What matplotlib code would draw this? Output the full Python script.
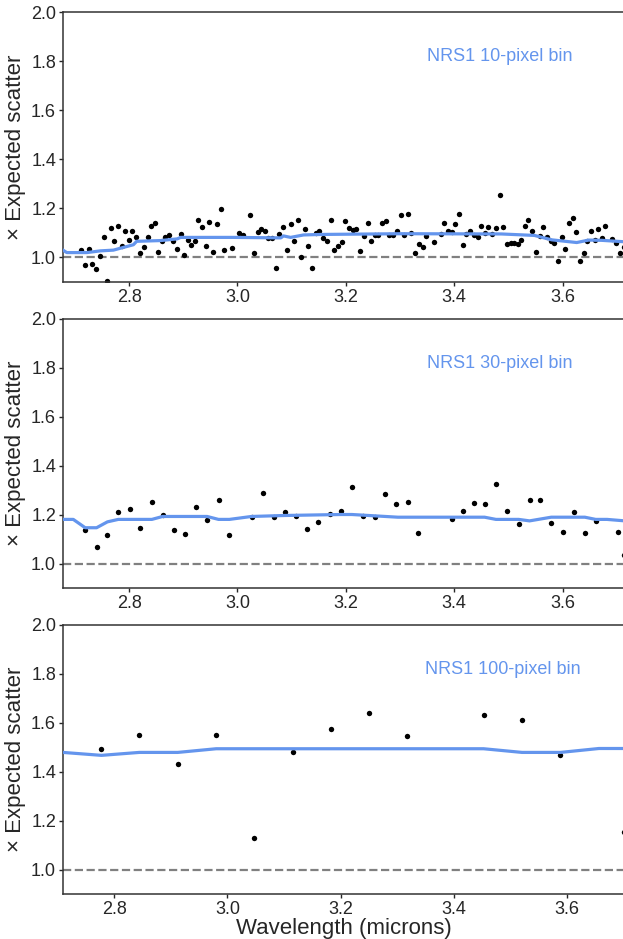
import matplotlib
matplotlib.use("Agg")
import matplotlib.pyplot as plt

plt.rcParams['font.family'] = ['Liberation Sans', 'DejaVu Sans']

# --- 10-pixel bins ---
wave_10 = [2.712, 2.719, 2.726, 2.732, 2.739, 2.746, 2.753, 2.759, 2.766, 2.772,
           2.779, 2.786, 2.793, 2.800, 2.806, 2.813, 2.820, 2.827, 2.834, 2.840,
           2.847, 2.854, 2.861, 2.867, 2.874, 2.881, 2.888, 2.895, 2.901, 2.908,
           2.914, 2.921, 2.928, 2.935, 2.942, 2.948, 2.955, 2.962, 2.969, 2.976,
           2.989, 3.002, 3.010, 3.023, 3.030, 3.037, 3.043, 3.050, 3.057, 3.064,
           3.071, 3.077, 3.084, 3.091, 3.098, 3.104, 3.111, 3.118, 3.124, 3.131,
           3.138, 3.145, 3.151, 3.158, 3.165, 3.172, 3.179, 3.185, 3.192, 3.199,
           3.206, 3.213, 3.219, 3.226, 3.233, 3.240, 3.247, 3.253, 3.260, 3.267,
           3.274, 3.280, 3.287, 3.294, 3.301, 3.308, 3.315, 3.321, 3.328, 3.335,
           3.342, 3.348, 3.362, 3.376, 3.382, 3.389, 3.396, 3.402, 3.409, 3.416,
           3.422, 3.429, 3.436, 3.443, 3.450, 3.456, 3.463, 3.470, 3.477, 3.484,
           3.490, 3.497, 3.504, 3.511, 3.517, 3.524, 3.530, 3.537, 3.544, 3.551,
           3.558, 3.564, 3.571, 3.578, 3.585, 3.591, 3.598, 3.605, 3.612, 3.619,
           3.625, 3.632, 3.639, 3.645, 3.652, 3.659, 3.666, 3.672, 3.679, 3.692,
           3.699, 3.706, 3.713]
ratio_10 = [1.031, 0.970, 1.036, 0.974, 0.955, 1.007, 1.083, 0.906, 1.121, 1.069,
            1.128, 1.048, 1.107, 1.073, 1.110, 1.083, 1.019, 1.042, 1.083, 1.129,
            1.140, 1.022, 1.069, 1.083, 1.093, 1.067, 1.034, 1.094, 1.012, 1.072,
            1.049, 1.068, 1.155, 1.125, 1.045, 1.144, 1.022, 1.137, 1.197, 1.031,
            1.038, 1.099, 1.093, 1.174, 1.020, 1.103, 1.117, 1.110, 1.080, 1.080,
            0.958, 1.097, 1.124, 1.029, 1.137, 1.067, 1.151, 1.000, 1.116, 1.046,
            0.958, 1.101, 1.110, 1.080, 1.067, 1.155, 1.029, 1.046, 1.065, 1.148,
            1.121, 1.113, 1.117, 1.026, 1.086, 1.139, 1.069, 1.090, 1.091, 1.140,
            1.147, 1.093, 1.093, 1.109, 1.174, 1.090, 1.177, 1.099, 1.018, 1.054,
            1.041, 1.087, 1.064, 1.097, 1.139, 1.107, 1.105, 1.135, 1.176, 1.052,
            1.094, 1.110, 1.091, 1.082, 1.129, 1.101, 1.124, 1.095, 1.120, 1.254,
            1.125, 1.056, 1.061, 1.061, 1.054, 1.072, 1.128, 1.151, 1.107, 1.024,
            1.088, 1.124, 1.083, 1.069, 1.058, 0.984, 1.082, 1.034, 1.142, 1.161,
            1.106, 0.985, 1.019, 1.067, 1.109, 1.072, 1.118, 1.080, 1.129, 1.075,
            1.060, 1.019, 1.042]
trend_x_10 = [2.678, 2.685, 2.722, 2.747, 2.771, 2.796, 2.808, 2.814, 2.858, 2.889,
              2.895, 2.932, 2.993, 3.080, 3.085, 3.098, 3.122, 3.154, 3.302, 3.487,
              3.548, 3.580, 3.626, 3.648, 3.672, 3.715]
trend_y_10 = [1.030, 1.020, 1.020, 1.027, 1.030, 1.045, 1.052, 1.066, 1.069, 1.076,
              1.082, 1.082, 1.082, 1.080, 1.088, 1.082, 1.092, 1.094, 1.097, 1.096,
              1.090, 1.072, 1.061, 1.071, 1.070, 1.064]

# --- 30-pixel bins ---
wave_30 = [2.719, 2.740, 2.760, 2.780, 2.801, 2.821, 2.842, 2.862, 2.882, 2.903,
           2.923, 2.944, 2.965, 2.985, 3.026, 3.047, 3.067, 3.088, 3.108, 3.129,
           3.149, 3.171, 3.191, 3.211, 3.232, 3.253, 3.273, 3.293, 3.314, 3.334,
           3.395, 3.416, 3.437, 3.457, 3.477, 3.498, 3.519, 3.539, 3.559, 3.579,
           3.600, 3.621, 3.641, 3.661, 3.702, 3.713]
ratio_30 = [1.135, 1.069, 1.117, 1.211, 1.223, 1.146, 1.253, 1.199, 1.136, 1.120,
            1.230, 1.177, 1.261, 1.117, 1.189, 1.289, 1.189, 1.211, 1.192, 1.139,
            1.170, 1.203, 1.216, 1.314, 1.195, 1.189, 1.282, 1.241, 1.253, 1.125,
            1.181, 1.214, 1.248, 1.241, 1.324, 1.214, 1.160, 1.260, 1.261, 1.166,
            1.127, 1.209, 1.125, 1.174, 1.127, 1.033]
trend_x_30 = [2.678, 2.697, 2.719, 2.740, 2.760, 2.780, 2.842, 2.862, 2.944, 2.965,
              2.985, 3.026, 3.087, 3.191, 3.211, 3.296, 3.456, 3.477, 3.519, 3.539,
              3.579, 3.641, 3.661, 3.682, 3.715]
trend_y_30 = [1.180, 1.180, 1.146, 1.146, 1.170, 1.180, 1.180, 1.192, 1.192, 1.180,
              1.180, 1.192, 1.196, 1.200, 1.200, 1.189, 1.189, 1.180, 1.180, 1.174,
              1.189, 1.189, 1.180, 1.180, 1.174]

# --- 100-pixel bins ---
wave_100 = [2.777, 2.844, 2.912, 2.980, 3.047, 3.115, 3.183, 3.251, 3.318, 3.453,
            3.521, 3.589, 3.701]
ratio_100 = [1.493, 1.550, 1.431, 1.549, 1.127, 1.480, 1.575, 1.639, 1.545, 1.629,
             1.609, 1.466, 1.155]
trend_x_100 = [2.709, 2.777, 2.844, 2.912, 2.980, 3.453, 3.521, 3.589, 3.657, 3.710]
trend_y_100 = [1.478, 1.466, 1.478, 1.478, 1.493, 1.493, 1.478, 1.478, 1.494, 1.494]

panels = [
    (wave_10, ratio_10, trend_x_10, trend_y_10, "NRS1 10-pixel bin", (2.678, 3.715)),
    (wave_30, ratio_30, trend_x_30, trend_y_30, "NRS1 30-pixel bin", (2.678, 3.715)),
    (wave_100, ratio_100, trend_x_100, trend_y_100, "NRS1 100-pixel bin", (2.709, 3.703)),
]
bottoms = [0.6997, 0.3738, 0.0479]

fig = plt.figure(figsize=(6.23, 9.39), dpi=100)
edge = '#333333'

for i, (wx, wy, tx, ty, label, xl) in enumerate(panels):
    ax = fig.add_axes([0.1011, bottoms[i], 0.902, 0.287])
    ax.axhline(1.0, color='gray', ls='--', lw=1.6, zorder=1)
    ax.scatter(wx, wy, s=15, color='black', zorder=2, linewidths=0)
    ax.plot(tx, ty, color='cornflowerblue', lw=2.3, zorder=3)
    ax.text(3.35, 1.8, label, color='cornflowerblue', fontsize=13)
    ax.set_xlim(*xl)
    ax.set_ylim(0.9, 2.0)
    ax.set_yticks([1.0, 1.2, 1.4, 1.6, 1.8, 2.0])
    ax.set_xticks([2.8, 3.0, 3.2, 3.4, 3.6])
    ax.set_ylabel(u"\u00d7 Expected scatter", fontsize=16, color='#262626')
    ax.yaxis.set_label_coords(-0.066, 0.5)
    ax.tick_params(labelsize=13, colors='#262626', length=3, width=1, pad=2)
    for sp in ax.spines.values():
        sp.set_color(edge)
        sp.set_linewidth(1.1)
    if i == 2:
        ax.set_xlabel("Wavelength (microns)", fontsize=16, color='#262626', labelpad=0)

fig.savefig("out.png", dpi=100)
